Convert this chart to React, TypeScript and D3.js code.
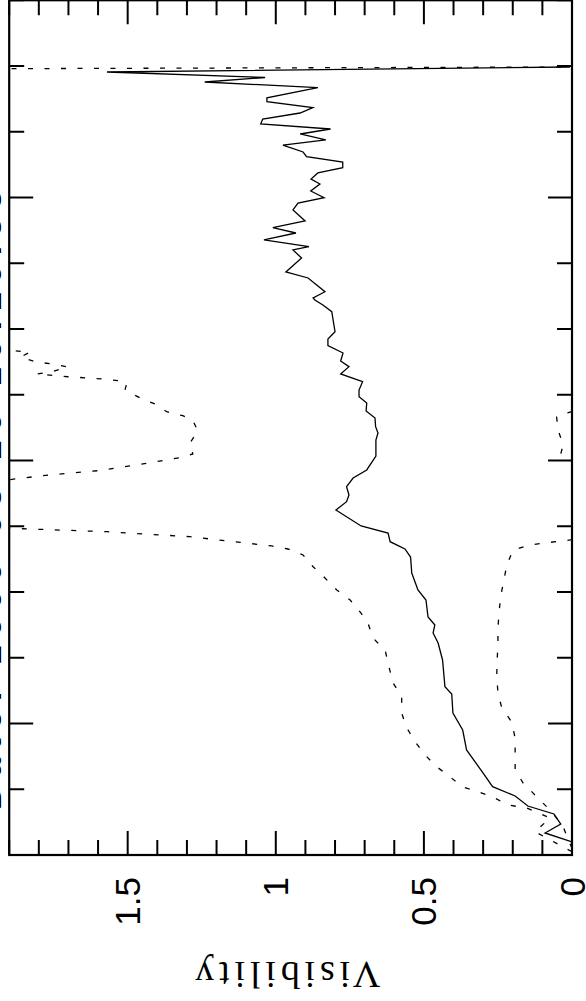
import React from 'react';
import * as d3 from 'd3';

// plot was exported rotated by -90deg: original x axis runs bottom -> top,
// visibility runs right -> left
const W = 586;
const H = 1001;

const U_TICKS = d3.range(0, 14, 1);
const U_MAJOR = [2, 6, 10];
const V_TICKS = d3.range(0, 1.91, 0.1);
const V_LABELS = ['0', '0.5', '1', '1.5'];
const V_LABEL_VALUES = [0, 0.5, 1, 1.5];

const TITLE = 'Date: 2000-03-20  10:10:53';
const Y_TITLE = 'Visibility';

// measured visibility
const solidU = [0.198, 0.335, 0.471, 0.624, 0.745, 0.897, 1.039, 1.247, 1.597, 1.901, 2.16, 2.449, 2.56, 2.966, 3.224, 3.376, 3.498, 3.62, 3.878, 4.03, 4.289, 4.532, 4.654, 4.765, 4.897, 5.004, 5.247, 5.373, 5.475, 5.601, 5.734, 5.856, 6.068, 6.312, 6.418, 6.514, 6.646, 6.753, 6.875, 6.97, 7.072, 7.198, 7.316, 7.427, 7.513, 7.635, 7.746, 7.848, 7.959, 8.263, 8.365, 8.441, 8.471, 8.567, 8.776, 8.867, 9.08, 9.202, 9.252, 9.354, 9.46, 9.541, 9.643, 9.81, 9.916, 9.997, 10.099, 10.205, 10.281, 10.373, 10.453, 10.54, 10.621, 10.692, 10.798, 10.875, 10.966, 11.042, 11.118, 11.194, 11.285, 11.366, 11.457, 11.517, 11.67, 11.757, 11.825, 11.909, 11.985];
const solidV = [0.0, 0.091, 0.038, 0.061, 0.149, 0.192, 0.268, 0.3, 0.356, 0.369, 0.402, 0.406, 0.429, 0.437, 0.452, 0.469, 0.463, 0.486, 0.493, 0.52, 0.541, 0.545, 0.564, 0.614, 0.621, 0.712, 0.797, 0.761, 0.753, 0.761, 0.739, 0.693, 0.662, 0.662, 0.655, 0.663, 0.665, 0.695, 0.693, 0.719, 0.719, 0.707, 0.781, 0.753, 0.781, 0.773, 0.824, 0.824, 0.8, 0.811, 0.841, 0.868, 0.874, 0.834, 0.891, 0.966, 0.913, 0.942, 0.888, 1.04, 0.932, 1.01, 0.901, 0.942, 0.925, 0.837, 0.882, 0.851, 0.881, 0.858, 0.774, 0.774, 0.896, 0.908, 0.976, 0.831, 0.918, 0.815, 1.051, 1.044, 0.918, 0.875, 1.03, 1.03, 0.858, 1.24, 1.036, 1.57, 0.007];

// upper error envelope
const upperU = [0.05, 0.354, 0.563, 0.715, 0.76, 0.882, 0.963, 1.039, 1.191, 1.343, 1.521, 1.723, 1.951, 2.16, 2.407, 2.616, 2.864, 3.118, 3.3, 3.529, 3.7, 3.878, 4.03, 4.213, 4.385, 4.563, 4.654, 4.7, 4.841, 4.917, 4.962, 5.0, 5.6, 5.719, 5.779, 5.845, 5.962, 6.043, 6.099, 6.266, 6.449, 6.616, 6.681, 6.742, 6.859, 6.951, 7.072, 7.183, 7.214, 7.24, 7.274, 7.316, 7.349, 7.422, 7.468, 7.498, 7.574, 7.65, 7.67, 7.75, 11.95, 11.985];
const upperV = [0.0, 0.125, 0.074, 0.153, 0.216, 0.267, 0.317, 0.372, 0.412, 0.457, 0.496, 0.53, 0.56, 0.575, 0.575, 0.604, 0.618, 0.631, 0.672, 0.689, 0.716, 0.749, 0.794, 0.834, 0.874, 0.908, 0.959, 1.014, 1.29, 1.571, 1.853, 2.05, 2.1, 1.88, 1.769, 1.6, 1.431, 1.323, 1.28, 1.29, 1.263, 1.281, 1.314, 1.368, 1.408, 1.458, 1.509, 1.503, 1.533, 1.583, 1.702, 1.807, 1.757, 1.702, 1.752, 1.81, 1.861, 1.83, 1.887, 2.1, 2.6, 0.0];

// lower error envelope
const lowerU = [0.1, 0.43, 0.658, 0.886, 1.095, 1.293, 1.551, 1.779, 2.027, 2.236, 2.464, 2.712, 2.94, 3.194, 3.452, 3.7, 3.928, 4.411, 4.639, 4.715, 4.75, 4.776, 4.85, 6.0, 6.099, 6.236, 6.464, 6.665, 6.741, 6.8, 11.9, 11.985];
const lowerV = [0.0, 0.03, 0.069, 0.119, 0.165, 0.192, 0.192, 0.192, 0.204, 0.237, 0.25, 0.254, 0.253, 0.25, 0.25, 0.246, 0.241, 0.22, 0.199, 0.142, 0.085, 0.03, -0.08, -0.05, 0.038, 0.03, 0.047, 0.052, 0.004, -0.05, -0.1, 0.0];

export default function App() {
  const uScale = d3.scaleLinear().domain([0, 13]).range([855, 0.25]);
  const vScale = d3.scaleLinear().domain([0, 1.9]).range([572, 9.2]);

  const left = vScale(1.9);
  const right = vScale(0);
  const top = uScale(13);
  const bottom = uScale(0);

  const line = d3
    .line<[number, number]>()
    .x((d) => vScale(d[1]))
    .y((d) => uScale(d[0]));

  const solidPath = line(d3.zip(solidU, solidV) as [number, number][]) ?? '';
  const upperPath = line(d3.zip(upperU, upperV) as [number, number][]) ?? '';
  const lowerPath = line(d3.zip(lowerU, lowerV) as [number, number][]) ?? '';

  const isMajorV = (v: number) => Math.abs(v * 2 - Math.round(v * 2)) < 1e-6;

  return (
    <>
      <style>{'body{margin:0}'}</style>
      <svg width={W} height={H} style={{ display: 'block', background: '#fff' }}>
        <defs>
          <clipPath id="plotClip">
            <rect x={left} y={top} width={right - left} height={bottom - top} />
          </clipPath>
        </defs>

        {/* title, mostly off page */}
        <text
          transform={`translate(0.5,500) rotate(-90)`}
          textAnchor="middle"
          fontFamily="Liberation Sans, Arial, sans-serif"
          fontWeight="bold"
          fontSize={34}
          textLength={620}
          fill="#000"
        >
          {TITLE}
        </text>

        <g clipPath="url(#plotClip)" fill="none" stroke="#000">
          <path d={upperPath} strokeWidth={1.3} strokeDasharray="5 11.5" />
          <path d={lowerPath} strokeWidth={1.3} strokeDasharray="5 11.5" />
          <path d={solidPath} strokeWidth={1.3} strokeLinejoin="miter" />
        </g>

        {/* frame */}
        <rect x={left} y={top} width={right - left} height={bottom - top} fill="none" stroke="#000" strokeWidth={2.2} />

        {/* visibility ticks on top and bottom edges */}
        {V_TICKS.map((v, i) => {
          const x = vScale(v);
          const len = isMajorV(v) ? 24 : 15;
          return (
            <g key={'v' + i} stroke="#000" strokeWidth={2}>
              <line x1={x} x2={x} y1={bottom} y2={bottom - len} />
              <line x1={x} x2={x} y1={top} y2={top + len} />
            </g>
          );
        })}

        {/* baseline ticks on left and right edges */}
        {U_TICKS.map((u) => {
          const y = uScale(u);
          const len = U_MAJOR.includes(u) ? 24 : 15;
          return (
            <g key={'u' + u} stroke="#000" strokeWidth={2}>
              <line x1={left} x2={left + len} y1={y} y2={y} />
              <line x1={right} x2={right - len} y1={y} y2={y} />
            </g>
          );
        })}

        {V_LABELS.map((lab, i) => (
          <text
            key={lab}
            transform={`translate(${vScale(V_LABEL_VALUES[i])},${bottom + 22}) rotate(-90)`}
            textAnchor="end"
            dominantBaseline="central"
            fontFamily="Liberation Sans, Arial, sans-serif"
            fontSize={35}
            fill="#000"
          >
            {lab}
          </text>
        ))}

        <text
          transform={`translate(${vScale(0.96)},${962}) rotate(180)`}
          textAnchor="middle"
          fontFamily="Liberation Serif, Times New Roman, serif"
          fontSize={38}
          textLength={185}
          fill="#000"
        >
          {Y_TITLE}
        </text>
      </svg>
    </>
  );
}
